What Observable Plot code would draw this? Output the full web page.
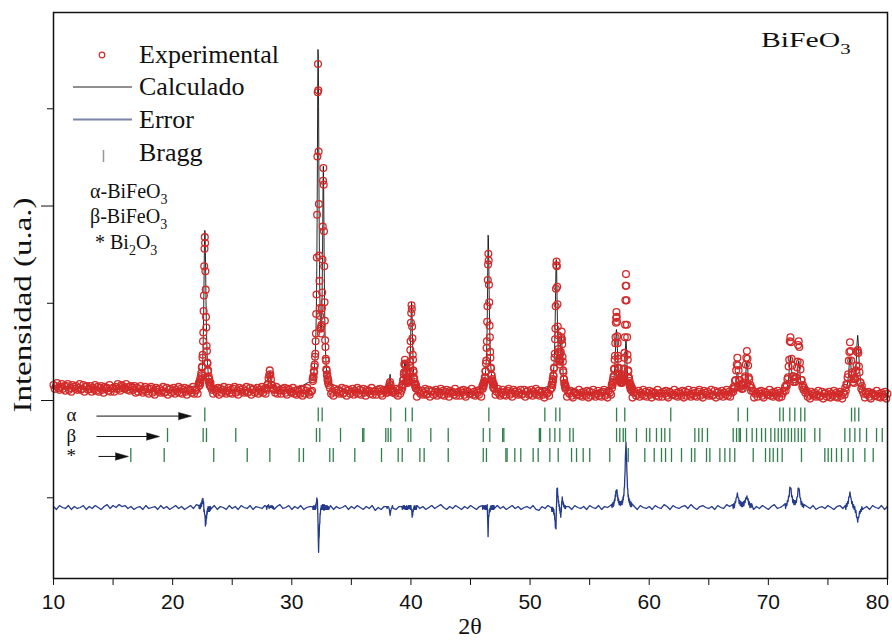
<!DOCTYPE html>
<html><head><meta charset="utf-8">
<script src="https://cdn.jsdelivr.net/npm/d3@7"></script>
<script src="https://cdn.jsdelivr.net/npm/@observablehq/plot@0.6"></script>
<style>body{margin:0;background:#fff}</style>
</head><body><div id="chart"></div>
<script>
// ---- Experimental background points (2θ = 10 .. 80, step 0.1) ----
const bgStart = 10, bgStep = 0.1;
const obsBackground = [
116,112,115,118,113,111,114,117,112,115,
110,115,117,111,113,109,116,114,112,115,
111,113,117,111,112,116,109,114,115,111,
112,115,109,113,111,116,110,114,109,113,
115,111,108,114,112,113,110,116,109,112,
113,109,114,112,117,112,110,116,115,113,
112,117,111,114,110,115,113,111,115,108,
113,109,112,115,110,108,111,114,109,112,
107,112,114,108,110,106,113,111,109,112,
108,110,114,108,109,113,106,111,112,108,
110,113,107,111,109,114,108,112,107,111,
113,109,106,112,110,111,108,114,107,110,
111,107,110,110,110,110,110,110,110,110,
110,110,110,111,107,112,110,108,113,106,
112,108,111,114,109,107,110,113,108,111,
107,112,114,108,110,106,113,111,109,112,
108,110,114,108,109,113,106,111,112,108,
110,113,107,111,109,114,108,112,107,111,
110,110,110,110,110,111,108,114,107,110,
111,107,112,110,113,108,106,112,111,109,
108,113,107,110,106,111,109,107,112,105,
111,107,110,113,108,106,109,110,110,110,
110,110,110,110,110,110,110,110,110,110,
110,110,113,107,109,105,112,110,108,111,
107,109,113,107,108,112,105,110,111,107,
109,112,106,110,108,113,107,111,106,110,
112,108,105,111,109,110,107,113,106,109,
110,106,111,109,112,107,105,111,110,108,
109,109,109,109,109,109,109,107,112,105,
111,107,110,109,109,109,109,109,109,109,
108,108,108,108,108,104,111,109,107,110,
106,108,112,106,107,111,104,109,110,106,
108,111,105,109,107,112,106,110,105,109,
111,107,104,110,108,109,106,112,105,108,
109,105,110,108,111,106,104,110,109,107,
107,112,106,109,105,110,108,106,111,104,
108,108,108,108,108,108,108,108,108,108,
108,106,109,112,107,105,108,111,106,109,
105,110,112,106,108,104,111,109,107,110,
106,108,111,106,107,111,104,109,110,106,
107,111,105,109,107,112,106,110,105,108,
110,106,103,109,107,108,105,111,107,107,
107,107,107,107,107,107,107,107,107,107,
107,104,109,107,110,105,103,109,108,106,
106,111,105,108,104,109,107,105,110,103,
109,105,108,111,106,104,107,110,105,108,
104,109,111,105,107,103,110,108,106,107,
107,107,107,107,107,107,107,107,107,107,
107,107,107,107,107,107,103,108,109,105,
107,110,104,108,106,111,105,109,104,108,
110,106,103,109,107,108,105,111,104,107,
108,104,109,107,110,105,103,109,108,106,
106,111,105,108,104,109,107,105,110,103,
109,105,108,111,106,104,107,110,105,108,
104,109,111,105,107,103,110,108,106,109,
105,107,111,105,106,110,103,108,109,105,
107,110,104,108,106,111,105,109,104,108,
107,107,107,107,107,107,107,107,107,107,
107,107,107,107,107,107,107,110,103,107,
108,104,109,107,110,105,103,109,108,106,
106,111,105,108,104,109,107,105,110,103,
108,104,107,110,106,106,106,106,106,106,
106,106,106,106,106,106,106,106,106,106,
106,108,110,104,106,102,109,107,105,108,
104,106,110,104,105,109,102,107,108,104,
106,109,103,107,105,110,104,108,103,107,
109,105,102,108,106,106,106,106,106,106,
106,106,106,106,106,106,106,106,106,106,
107,103,108,106,109,104,102,108,107,105,
105,110,104,107,103,108,106,104,109,102,
107];
// difference (obs - calc) on a 0.25° grid
const errStart = 10, errStep = 0.25;
const errBackground = [
1,-2,2,0,-1,2,-2,1,-1,0,2,-2,1,-1,2,0,-2,1,3,-1,2,
0,3,1,2,-1,1,-2,0,1,-2,2,-1,0,1,-2,2,-1,1,-2,0,
2,-1,1,-2,0,2,-1,3,0,0,0,0,-1,2,-2,1,0,-2,2,-1,
1,-2,2,0,-1,2,-2,1,0,-1,2,0,0,-2,1,3,-1,0,2,-2,
1,-1,2,-2,0,1,0,0,0,0,0,0,2,-2,1,-1,0,2,-2,1,
-1,2,0,-2,1,-1,2,-3,0,-2,1,0,0,0,-2,1,0,0,0,0,
0,2,-1,1,-2,0,2,-1,1,3,0,-2,1,-1,2,0,-2,1,-1,2,
0,-2,1,0,0,0,0,0,2,-1,1,-2,0,2,-1,1,-2,0,1,-1,
2,-2,-3,1,-1,2,0,0,0,0,0,0,1,-2,2,0,-1,1,-2,2,
0,-1,2,-2,1,0,2,0,0,0,0,0,0,0,1,-2,2,0,-1,1,
-2,2,0,-1,3,1,-2,2,0,-1,1,2,-1,3,0,-2,1,2,0,-1,
1,-2,2,0,-1,3,1,0,0,0,0,0,0,0,-2,1,-1,2,0,-2,
1,3,-1,0,2,0,0,0,0,0,0,0,1,-1,2,-2,0,1,-1,2,
0,-2,1,2,-1,0,0,0,0,0,0,-1,1,-2,2,0,-1,2,-2,1];
const errOffset = -10;

// ---- Calculated background ----
const calcBgTheta  = [10,12.5,15,17.5,20,25,30,35,40,45,50,55,60,65,70,75,80];
const calcBgValues = [114,112.5,111.5,110.5,110,110,109.5,109,108.5,108,107.5,107,107,106.5,106.5,106,106];

// ---- Peak regions: observed and calculated ----
const windowStart = [22.2, 27.85, 31.75, 37.95, 39.25, 46.0, 51.8, 56.85, 67.0, 71.4, 76.45];
const windowStep  = [0.025, 0.05, 0.025, 0.05, 0.025, 0.025, 0.025, 0.025, 0.05, 0.05, 0.05];
const windowObs = [
[118,115,119,116,121,118,124,122,128,126,134,135,144,147,161,170,192,208,238,256,268,262,233,214,186,175,156,151,139,138,130,131,123,125,119,122,116,119,115,118,114],
[113,111,116,117,123,126,131,127,122,116,116,112,113],
[122,120,125,124,130,129,135,137,145,148,161,169,189,209,247,291,351,417,446,419,356,302,249,223,195,187,174,174,169,176,178,195,211,245,279,326,339,322,274,238,201,182,162,155,143,141,132,131,126,127,121,123,118,120,116],
[110,108,111,112,114,117,119,116,112,110,111,108],
[115,113,117,116,121,121,127,129,137,138,142,137,136,129,128,122,124,119,121,118,121,120,124,122,128,128,136,140,152,161,180,190,198,194,176,164,147,142,131,129,122,123,117,119,115,117,113,116,112],
[115,112,116,114,118,116,120,119,124,123,130,130,138,141,154,161,181,197,224,240,251,244,219,201,177,165,150,144,134,133,126,126,120,122,118,119,114,117,113,116,112],
[116,113,118,116,122,120,126,125,133,134,144,148,163,174,197,215,239,243,238,217,199,176,167,153,150,141,142,137,142,140,148,150,162,165,171,163,158,145,140,131,129,122,122,117,118,114,116,112,114],
[116,113,118,116,121,119,125,124,132,133,142,146,159,165,180,185,191,186,181,166,159,146,143,134,133,126,127,122,124,119,122,118,121,119,122,118,123,121,127,125,132,133,144,149,165,178,203,218,230,218,203,178,165,147,142,131,130,123,124,118,120,115,117,112,116,111,114,110,113],
[112,109,114,112,120,121,131,137,144,136,131,121,121,114,117,112,116,112,118,116,123,125,137,144,151,143,136,124,122,114,116,110,113],
[114,110,116,115,122,124,135,142,161,165,160,143,136,125,125,119,122,119,124,124,134,140,157,161,155,139,132,121,121,114,116,111,113],
[113,110,117,116,124,127,141,150,160,151,141,129,127,119,122,118,123,122,131,136,150,152,149,135,129,119,118,112,115,110]];
const windowCalc = [
[116,116,117,117,118,119,120,121,123,125,127,131,135,142,152,166,186,212,240,263,275,272,252,228,203,183,167,155,146,139,134,130,127,125,123,121,120,119,118,117,116],
[112,113,114,116,120,127,130,127,120,116,114,113,112],
[121,122,124,126,128,131,134,138,143,150,158,170,184,205,237,283,344,420,461,452,402,334,279,240,212,193,181,175,171,174,180,193,213,242,281,323,341,320,277,235,203,180,164,153,145,139,134,130,128,125,123,122,120,119,118],
[109,109,110,111,114,120,127,120,113,110,109,109],
[114,115,116,117,119,122,125,130,135,139,141,139,135,131,127,124,122,121,120,120,120,121,122,123,126,129,134,141,150,163,178,192,201,198,186,170,155,144,135,129,124,121,119,118,117,116,115,114,114],
[113,114,115,115,116,117,119,120,122,125,128,131,136,143,152,160,178,204,240,270,268,252,228,203,182,166,154,143,136,131,128,125,122,120,119,117,116,115,115,114,113],
[116,117,118,120,122,124,127,131,135,142,150,161,176,195,217,237,245,237,219,197,179,165,155,148,143,140,139,140,142,146,152,160,167,169,165,157,147,139,133,128,124,121,119,117,116,115,114,113,113],
[113,113,114,115,116,118,120,122,125,128,133,139,146,154,163,170,173,170,163,155,146,139,133,129,125,123,121,119,118,117,116,115,115,115,115,115,115,116,116,117,119,121,124,128,134,141,151,159,163,159,151,141,134,127,123,120,117,116,114,113,112,112,111,111,110,110,109,109,109],
[109,110,110,112,114,116,121,126,129,126,121,117,114,112,111,111,111,111,112,114,116,120,127,135,139,135,127,121,116,114,112,110,109],
[110,111,112,113,115,118,123,131,140,145,140,132,124,120,117,116,115,116,117,119,123,129,137,141,137,129,122,118,115,113,112,111,110],
[111,112,113,115,118,123,130,139,144,140,132,125,121,119,119,120,122,127,134,146,160,167,159,145,133,125,120,116,114,112]];

// ---- Bragg reflections (2θ) ----
const braggAlpha = [22.70,32.22,32.55,38.31,39.55,40.11,46.54,51.24,52.16,52.50,57.26,57.95,61.81,67.47,68.25,70.96,71.25,71.80,72.22,72.72,73.06,76.98,77.26,77.59];
const braggBeta = [19.57,22.56,22.84,25.30,32.07,32.35,34.09,35.95,36.05,37.89,38.09,38.31,39.77,39.99,41.67,43.13,46.07,46.62,47.70,47.80,50.78,50.88,51.66,52.08,52.50,53.34,53.62,57.26,57.53,57.82,58.01,58.93,59.77,60.05,60.61,61.03,61.31,61.73,63.83,64.16,64.45,64.89,67.05,67.33,67.55,67.65,68.17,68.64,69.01,69.43,69.76,70.21,70.54,70.83,71.10,71.38,71.67,71.94,72.22,72.51,72.78,73.06,73.90,74.32,76.42,76.84,77.26,77.68,78.24,79.08,79.56];
const braggBi2O3 = [16.49,19.29,23.45,26.26,28.16,30.62,30.98,33.19,33.48,35.29,37.53,38.93,39.27,40.75,41.11,43.13,46.07,46.34,47.97,48.07,48.72,49.22,50.26,50.68,51.66,52.36,53.48,53.90,54.46,55.01,56.69,58.24,59.63,60.42,61.03,61.37,61.87,62.71,63.55,63.83,64.81,65.09,65.93,66.35,66.77,67.18,68.73,69.76,70.12,70.41,70.77,71.16,72.78,74.74,75.02,75.30,75.72,76.14,76.70,77.12,78.10,78.80];
const braggRowY = [85, 64, 43.5];
const rowLabels = ["α", "β", "*"];
const arrowTail = [13.61, 13.61, 13.78];
const arrowTip = [21.58, 18.90, 16.29];

// ---- ticks ----
const xTickValues = d3.range(10, 81, 5);
const xTickLabels = d3.range(10, 71, 10);
const xLastLabel = [80];
const yMajorTicks = [100, 300];
const yMinorTicks = [0, 200, 400];

// ---- assemble series ----
const wins = windowStart.map((s, w) => ({s, e: s + windowStep[w] * (windowObs[w].length - 1)}));
const inWindow = t => wins.some(({s, e}) => t >= s - 1e-9 && t <= e + 1e-9);
const obsPts = [], calcPts = [], errPts = [];
obsBackground.forEach((v, j) => {
  const t = +(bgStart + j * bgStep).toFixed(4);
  if (!inWindow(t)) obsPts.push({t, v});
});
errBackground.forEach((v, j) => {
  const t = +(errStart + j * errStep).toFixed(4);
  if (!inWindow(t)) errPts.push({t, v: v + errOffset});
});
calcBgTheta.forEach((t, j) => { if (!inWindow(t)) calcPts.push({t, v: calcBgValues[j]}); });
windowObs.forEach((arr, w) => arr.forEach((v, i) => {
  const t = +(windowStart[w] + i * windowStep[w]).toFixed(4);
  const c = windowCalc[w][i];
  obsPts.push({t, v}); calcPts.push({t, v: c}); errPts.push({t, v: v - c + errOffset});
}));
[obsPts, calcPts, errPts].forEach(a => a.sort((p, q) => p.t - q.t));

const braggTicks = [braggAlpha, braggBeta, braggBi2O3].flatMap((arr, r) => arr.map(t => ({t, y: braggRowY[r]})));
const arrows = arrowTip.map((tip, i) => ({tail: arrowTail[i], end: tip - 1.0, y: braggRowY[i] - 1}));
const heads = arrowTip.flatMap((tip, i) => [
  {i, t: tip - 1.1, v: braggRowY[i] - 1 + 3.8}, {i, t: tip, v: braggRowY[i] - 1}, {i, t: tip - 1.1, v: braggRowY[i] - 1 - 3.8}]);

const chart = Plot.plot({
  width: 892, height: 641,
  marginLeft: 53, marginRight: 5, marginTop: 12, marginBottom: 63,
  x: {domain: [10, 80]},
  y: {domain: [-83, 499]},
  style: {fontFamily: "Liberation Sans", fontSize: "21px", color: "#111", background: "#fff"},
  marks: [
    Plot.ruleX(braggTicks, {x: "t", y1: d => d.y - 7.2, y2: d => d.y + 7.2, stroke: "#2f7f4b", strokeWidth: 1.3}),
    Plot.link(arrows, {x1: "tail", x2: "end", y1: "y", y2: "y", stroke: "#111", strokeWidth: 1}),
    Plot.line(heads, {x: "t", y: "v", z: "i", fill: "#111", stroke: "#111", strokeWidth: 0.5}),
    Plot.text(rowLabels, {x: () => 11.5, y: (d, i) => braggRowY[i], text: d => d, fontFamily: "Liberation Serif", fontSize: 19, fill: "#111"}),
    Plot.line(errPts, {x: "t", y: "v", stroke: "#243b8c", strokeWidth: 1.3}),
    Plot.line(calcPts, {x: "t", y: "v", stroke: "#111", strokeWidth: 0.9}),
    Plot.dot(obsPts, {x: "t", y: "v", r: 3.4, stroke: "#d32a2a", strokeWidth: 1.3, fill: "none"}),
    Plot.axisX(xTickValues, {tickSize: 7, tickFormat: () => "", label: null}),
    Plot.axisX(xTickLabels, {tickSize: 0, tickPadding: 16, label: null}),
    Plot.axisX(xLastLabel, {tickSize: 0, tickPadding: 16, dx: -10, label: null}),
    Plot.axisY(yMajorTicks, {tickSize: 12, tickFormat: () => "", label: null}),
    Plot.axisY(yMinorTicks, {tickSize: 6, tickFormat: () => "", label: null}),
    Plot.frame({stroke: "#111", strokeWidth: 1.5})
  ]
});
document.getElementById("chart").appendChild(chart);

// ---- legend and titles ----
const svg = d3.select(chart);
const g = svg.append("g").attr("font-family", "Liberation Serif").attr("fill", "#111").attr("text-anchor", "start");
g.append("circle").attr("cx", 102).attr("cy", 55).attr("r", 2.8).attr("fill", "none").attr("stroke", "#d32a2a").attr("stroke-width", 1.2);
g.append("text").attr("x", 139).attr("y", 63).attr("font-size", 26).text("Experimental");
g.append("line").attr("x1", 73).attr("x2", 132).attr("y1", 87).attr("y2", 87).attr("stroke", "#222").attr("stroke-width", 1.2);
g.append("text").attr("x", 139).attr("y", 95).attr("font-size", 26).text("Calculado");
g.append("line").attr("x1", 73).attr("x2", 132).attr("y1", 119.5).attr("y2", 119.5).attr("stroke", "#7d84aa").attr("stroke-width", 2.2);
g.append("text").attr("x", 139).attr("y", 128).attr("font-size", 26).text("Error");
g.append("line").attr("x1", 103.5).attr("x2", 103.5).attr("y1", 150).attr("y2", 162).attr("stroke", "#999").attr("stroke-width", 1.5);
g.append("text").attr("x", 139).attr("y", 161).attr("font-size", 26).text("Bragg");
function formula(x, y, parts, size, transform) {
  const t = g.append("text").attr("font-size", size);
  if (transform) t.attr("transform", transform); else t.attr("x", x).attr("y", y);
  parts.forEach(([s, isSub]) => {
    t.append("tspan").text(s).attr("font-size", isSub ? size * 0.7 : size).attr("dy", isSub ? size * 0.3 : -0);
  });
  return t;
}
formula(90, 198, [["α-BiFeO"], ["3", true]], 20);
formula(90, 223, [["β-BiFeO"], ["3", true]], 20);
const t3 = g.append("text").attr("x", 95).attr("y", 249).attr("font-size", 20);
t3.append("tspan").text("* Bi");
t3.append("tspan").text("2").attr("font-size", 14).attr("dy", 6);
t3.append("tspan").text("O").attr("dy", -6);
t3.append("tspan").text("3").attr("font-size", 14).attr("dy", 6);
formula(0, 0, [["BiFeO"], ["3", true]], 22, "translate(761,47) scale(1.35,1)");
g.append("text").attr("transform", "translate(31,305) rotate(-90)").attr("text-anchor", "middle")
  .attr("font-size", 26).attr("textLength", 215).attr("lengthAdjust", "spacingAndGlyphs").text("Intensidad (u.a.)");
g.append("text").attr("x", 470).attr("y", 634).attr("text-anchor", "middle").attr("font-size", 24).text("2θ");
</script></body></html>
